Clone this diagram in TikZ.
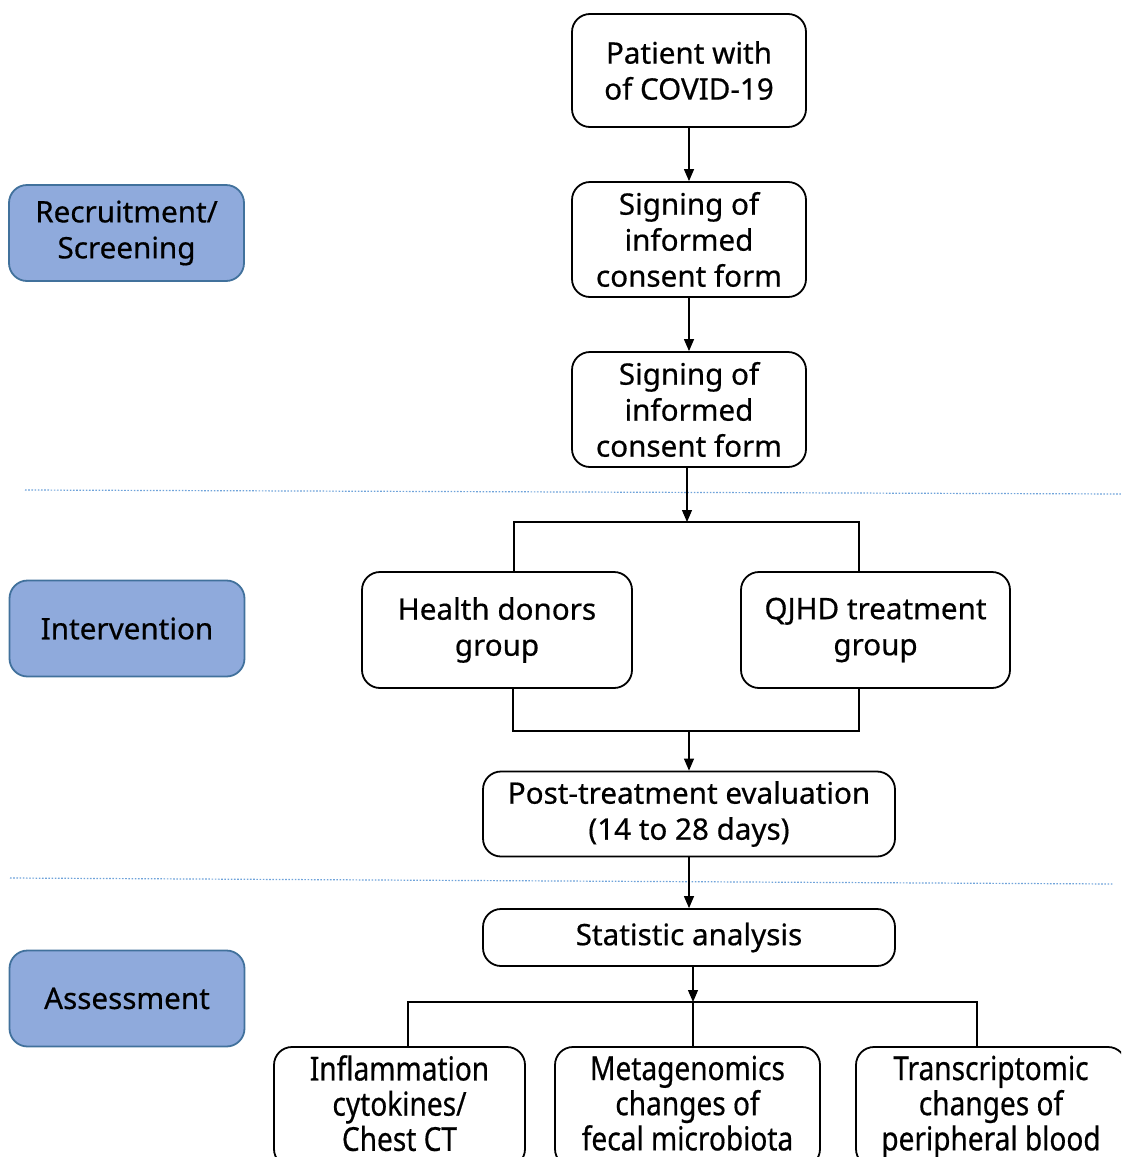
\documentclass[tikz,border=0pt]{standalone}
\usepackage{fontspec}
\setmainfont{Noto Sans}[FakeBold=0.5]
\newfontfamily\narrowfont{Noto Sans}[FakeStretch=0.85, FakeBold=0.5]
\usetikzlibrary{arrows.meta}
\definecolor{bluefill}{HTML}{8FAADC}
\definecolor{blueedge}{HTML}{41719C}
\definecolor{dotblue}{HTML}{6FA3DA}
\tikzset{
  flowbox/.style={draw=black, line width=0.9pt, rounded corners=9pt, fill=white, align=center, inner sep=0pt, font=\fontsize{14.8}{18}\selectfont},
  phasebox/.style={draw=blueedge, line width=0.9pt, rounded corners=9pt, fill=bluefill, align=center, inner sep=0pt, minimum width=117.5pt, minimum height=48pt, font=\fontsize{14.8}{18}\selectfont},
  narrowbox/.style={flowbox, font=\narrowfont\fontsize{16.5}{17.6}\selectfont},
  arr/.style={line width=0.6pt, -{Triangle[length=6pt,width=5pt]}},
  conn/.style={line width=0.6pt},
  sep/.style={draw=dotblue, line width=0.6pt, dash pattern=on 0.8pt off 0.8pt}
}
\begin{document}
\begin{tikzpicture}[x=0.5pt, y=-0.5pt]
\useasboundingbox (0,0) rectangle (1121,1157);
\clip (0,0) rectangle (1121,1157);
% separators
\coordinate (s1a) at (25,490);
\coordinate (s1b) at (1121,494);
\coordinate (s2a) at (10,878);
\coordinate (s2b) at (1113,884);
\draw[sep] (s1a) -- (s1b);
\draw[sep] (s2a) -- (s2b);
% phase boxes
\node[phasebox] (rec) at (126.5,233) {Recruitment/\\Screening};
\node[phasebox] (int) at (127,628.5) {Intervention};
\node[phasebox] (ass) at (127,998.5) {Assessment};
% main flow
\node[flowbox, minimum width=117pt, minimum height=56.5pt] (b1) at (689,70.5) {Patient with\\of COVID-19};
\node[flowbox, minimum width=117pt, minimum height=57.5pt] (b2) at (689,239.5) {Signing of\\informed\\consent form};
\node[flowbox, minimum width=117pt, minimum height=57.5pt] (b3) at (689,409.5) {Signing of\\informed\\consent form};
\node[flowbox, minimum width=135pt, minimum height=58pt] (hd) at (497,630) {Health donors\\group};
\node[flowbox, minimum width=134.5pt, minimum height=58pt] (qj) at (875.5,630) {QJHD treatment\\group};
\node[flowbox, minimum width=206pt, minimum height=42.5pt] (post) at (689,814) {Post-treatment evaluation\\(14 to 28 days)};
\node[flowbox, minimum width=206pt, minimum height=28.5pt] (stat) at (689,937.5) {Statistic analysis};
\node[narrowbox, minimum width=125.5pt, minimum height=60pt] (inf) at (399.5,1107) {Inflammation\\cytokines/\\Chest CT\vphantom{p}};
\node[narrowbox, minimum width=132.5pt, minimum height=60pt] (meta) at (687.5,1107) {Metagenomics\\changes of\\fecal microbiota\vphantom{p}};
\node[narrowbox, minimum width=135pt, minimum height=60pt] (tra) at (991,1107) {Transcriptomic\\changes of\\peripheral blood};
% connectors
\draw[arr] (b1) -- (b2);
\draw[arr] (b2) -- (b3);
\coordinate (tl) at (514,522);
\coordinate (tr) at (859,522);
\coordinate (tm) at (687,522);
\draw[arr] (b3.south -| tm) -- (tm);
\draw[conn] (hd.north -| tl) -- (tl) -- (tr) -- (qj.north -| tr);
\coordinate (bl) at (513,731);
\coordinate (br) at (859,731);
\draw[conn] (hd.south -| bl) -- (bl) -- (br) -- (qj.south -| br);
\draw[arr] (bl -| post.north) -- (post.north);
\draw[arr] (post) -- (stat);
\coordinate (ml) at (408,1002);
\coordinate (mm) at (693,1002);
\coordinate (mr) at (977,1002);
\draw[arr] (stat.south -| mm) -- (mm);
\draw[conn] (inf.north -| ml) -- (ml) -- (mr) -- (tra.north -| mr);
\draw[conn] (mm) -- (meta.north -| mm);
\end{tikzpicture}
\end{document}
